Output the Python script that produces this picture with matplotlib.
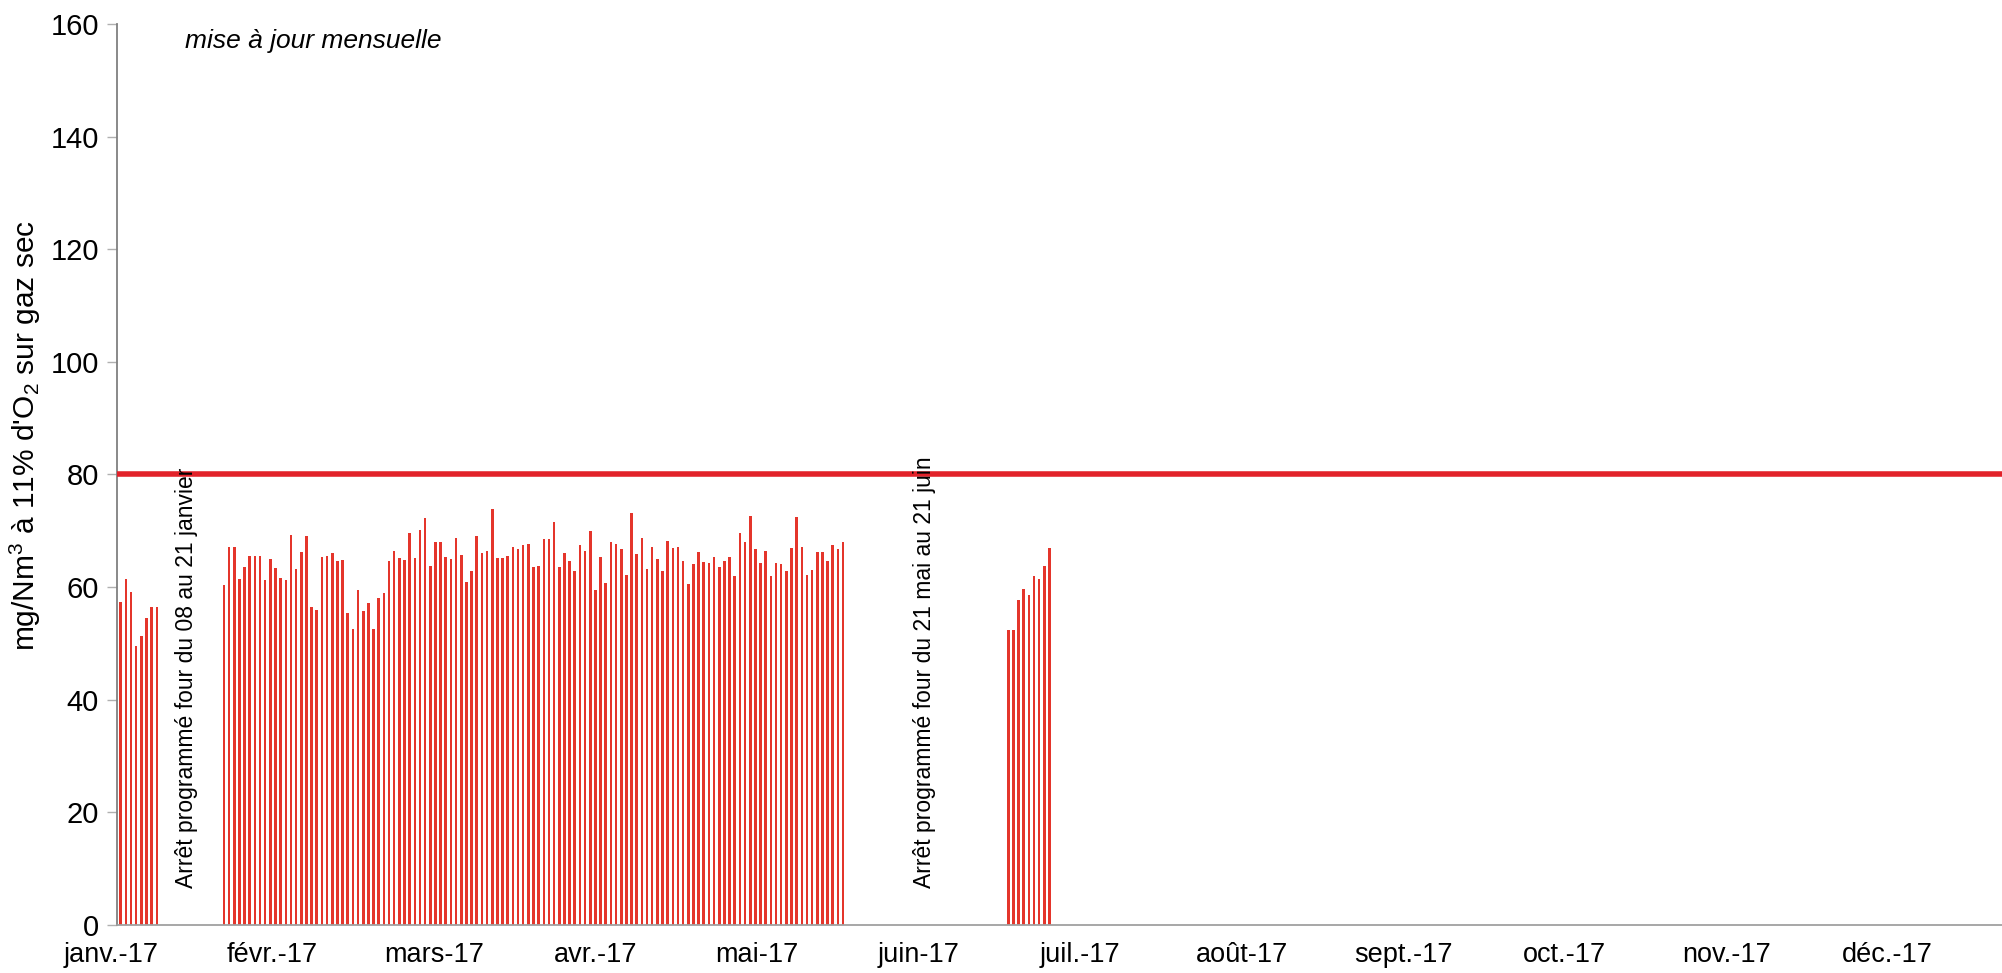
import datetime as dt
import matplotlib
matplotlib.use("Agg")
import matplotlib.pyplot as plt
from matplotlib.transforms import ScaledTranslation

plt.rcParams['font.family'] = ['Liberation Sans', 'DejaVu Sans']
plt.rcParams['mathtext.fontset'] = 'custom'
plt.rcParams['mathtext.rm'] = 'Liberation Sans'
plt.rcParams['mathtext.it'] = 'Liberation Sans:italic'
plt.rcParams['mathtext.default'] = 'regular'

# ---- data -------------------------------------------------------------
year_start = dt.date(2017, 1, 1)

run1_start = dt.date(2017, 1, 1)
run1_values = [57.4, 61.4, 59.2, 49.6, 51.4, 54.6, 56.4, 56.4]

run2_start = dt.date(2017, 1, 21)
run2_values = [
    60.4, 67.2, 67.2, 61.4, 63.5, 65.5, 65.5, 65.5, 61.3, 65.0,
    63.4, 61.7, 61.2, 69.3, 63.2, 66.2, 69.1, 56.4, 55.9, 65.3,
    65.5, 66.0, 64.7, 64.9, 55.4, 52.6, 59.5, 55.8, 57.1, 52.5,
    58.0, 58.9, 64.7, 66.4, 65.2, 64.9, 69.6, 65.2, 70.2, 72.2,
    63.8, 68.0, 68.0, 65.4, 65.0, 68.7, 65.7, 60.9, 62.8, 69.0,
    66.0, 66.4, 73.9, 65.1, 65.1, 65.5, 67.2, 66.8, 67.4, 67.7, 63.5,
    63.8, 68.5, 68.5, 71.6, 63.5, 66.0, 64.7, 62.9, 67.4, 66.4,
    69.9, 59.5, 65.4, 60.8, 68.1, 67.6, 66.8, 62.2, 73.1, 65.8,
    68.8, 63.2, 67.1, 65.0, 62.9, 68.2, 66.9, 67.1, 64.7, 60.5,
    64.1, 66.3, 64.4, 64.3, 65.3, 63.6, 64.7, 65.4, 61.9, 69.7,
    68.1, 72.7, 66.8, 64.3, 66.5, 62.0, 64.3, 64.1, 62.8, 67.0,
    72.5, 67.1, 62.1, 63.1, 66.3, 66.3, 64.7, 67.4, 66.8, 68.0,
]

run3_start = dt.date(2017, 6, 22)
run3_values = [52.4, 52.4, 57.7, 59.6, 58.6, 61.9, 61.4, 63.8, 67.0]

limit_value = 80

tick_labels = ['janv.-17', 'févr.-17', 'mars-17', 'avr.-17', 'mai-17', 'juin-17',
               'juil.-17', 'août-17', 'sept.-17', 'oct.-17', 'nov.-17', 'déc.-17']

title_text = 'mise à jour mensuelle'
ylabel_text = r"mg/Nm$^{3}$ à 11% d'O$_{2}$ sur gaz sec"
note1_text = 'Arrêt programmé four du 08 au 21 janvier'
note2_text = 'Arrêt programmé four du 21 mai au 21 juin'
note1_date = dt.date(2017, 1, 13)
note2_date = dt.date(2017, 6, 6)


def day_index(d):
    return (d - year_start).days


# ---- figure -----------------------------------------------------------
W, H = 2002, 973
fig = plt.figure(figsize=(W / 100, H / 100), dpi=100)
ax = fig.add_axes([117 / W, 48 / H, (W - 117) / W, 901 / H])

bar_color = '#e4352b'
for start, vals in [(run1_start, run1_values), (run2_start, run2_values),
                    (run3_start, run3_values)]:
    x0 = day_index(start)
    xs = [x0 + i for i in range(len(vals))]
    ax.bar(xs, vals, width=0.5, color=bar_color, edgecolor='none', zorder=2)

ax.axhline(limit_value, color='#e2222a', lw=4, zorder=3)

ax.set_yticks(range(0, 161, 20))
ax.tick_params(axis='y', labelsize=21, length=7, width=1, color='#b0b0b0', pad=6)

# Excel-style category labels: one label every ~31 days, evenly spaced
label_step, label_offset = 31.3, -0.7
ax.set_xticks([label_offset + i * label_step for i in range(len(tick_labels))])
ax.set_xticklabels(tick_labels)
ax.tick_params(axis='x', labelsize=19.5, length=0, pad=12)
shift = ScaledTranslation(-6 / 100, 0, fig.dpi_scale_trans)
for lab in ax.get_xticklabels():
    lab.set_transform(lab.get_transform() + shift)

ax.set_xlim(-0.72, 364.6)
ax.set_ylim(0, 160)

for s in ['top', 'right']:
    ax.spines[s].set_visible(False)
ax.spines['left'].set_color('#808080')
ax.spines['left'].set_linewidth(1.3)
ax.spines['bottom'].set_color('#a0a0a0')
ax.spines['bottom'].set_linewidth(1.3)

ax.text(12.5, 157, title_text, fontsize=19, style='italic', va='center', ha='left')
ax.text(day_index(note1_date) + 0.7, 6.5, note1_text, rotation=90, fontsize=16.5,
        ha='center', va='bottom')
ax.text(day_index(note2_date) - 0.2, 6.5, note2_text, rotation=90, fontsize=16.5,
        ha='center', va='bottom')

fig.text(25 / W, 1 - 436 / H, ylabel_text, rotation=90, fontsize=21.5,
         ha='center', va='center')

fig.savefig('out.png', dpi=100)
